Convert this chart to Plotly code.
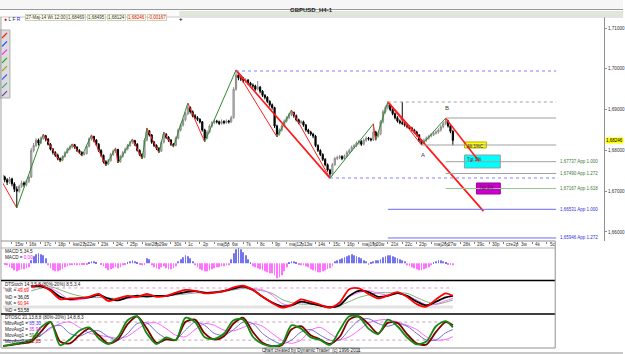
import plotly.graph_objects as go

W, H = 625, 354

# ---------------- data (prices in pips above 1.6000) ----------------
first_open = 740
closes = [735, 728, 722, 730, 718, 705, 700, 712, 720, 716, 724, 735,
          800, 812, 825, 818, 830, 836, 828,
          815, 803, 795, 788, 780, 776,
          785, 795, 803, 808, 814,
          808, 800, 795, 790, 792,
          810, 828, 834,
          825, 815, 800, 788, 772, 766,
          775, 790, 798, 802,
          772,
          785, 795, 803, 812, 820, 824,
          815, 800, 790, 783,
          825, 848,
          838, 820, 812, 805, 798,
          820, 840,
          832, 825, 815, 812,
          830, 850, 862, 875, 890, 905,
          895, 885, 880, 876, 870, 850, 830,
          845, 860, 868, 872, 870, 866, 871, 868, 872, 870,
          880, 950, 985,
          978, 975, 970, 972, 965, 960, 958, 950, 955, 945, 935, 930, 920, 912, 905, 860,
          840,
          850, 860, 872, 880, 888, 893,
          885, 875, 868, 870, 862, 850, 845, 840, 835, 812,
          800, 790, 778, 765, 752, 742,
          765, 780, 782, 785, 780, 786, 795, 800, 808, 812,
          818, 822, 815, 825, 830, 828, 826, 845, 835,
          840, 870, 895, 905, 912,
          900, 890, 880, 872, 868, 866, 862, 858, 855, 850, 845, 838, 825, 818,
          825, 830, 835, 838, 842, 845, 850, 858, 866, 872,
          860, 846.9, 824.6]
highs = [745, 738, 732, 735, 733, 722, 712, 716, 726, 724, 728, 740,
         806, 818, 830, 829, 834, 840, 838,
         830, 818, 806, 798, 792, 783,
         788, 798, 807, 812, 816,
         816, 810, 803, 798, 796,
         814, 832, 838,
         836, 828, 818, 803, 790, 776,
         779, 794, 802, 806,
         804,
         789, 799, 807, 816, 824, 828,
         826, 818, 803, 793,
         830, 855,
         850, 840, 823, 815, 808,
         824, 845,
         842, 835, 828, 818,
         834, 854, 866, 879, 894, 916,
         908, 898, 889, 884, 879, 872, 853,
         849, 864, 872, 876, 875, 873, 876, 874, 876, 875,
         885, 955, 997,
         990, 983, 980, 977, 975, 968, 964, 961, 970, 958, 948, 938, 933, 923, 915, 907,
         863,
         854, 864, 876, 884, 892, 899,
         895, 888, 878, 874, 873, 865, 853, 848, 843, 838,
         815, 803, 793, 781, 768, 755,
         769, 784, 787, 789, 788, 790, 799, 804, 812, 816,
         822, 826, 825, 829, 834, 833, 831, 865, 848,
         845, 874, 900, 910, 919,
         914, 903, 893, 884, 876, 919, 870, 866, 861, 858, 853, 848, 840, 828,
         829, 834, 838, 842, 846, 849, 854, 862, 870, 879,
         875, 863, 849.5]
lows = [730, 722, 715, 718, 712, 698, 659, 696, 708, 710, 712, 720,
        732, 795, 808, 812, 815, 826, 822,
        812, 800, 790, 784, 776, 772,
        773, 782, 792, 800, 805,
        804, 796, 791, 786, 787,
        790, 807, 824,
        820, 811, 796, 784, 768, 762,
        764, 772, 786, 794,
        769,
        770, 782, 792, 800, 808, 816,
        811, 797, 786, 779,
        781, 822,
        834, 816, 808, 801, 794,
        796, 817,
        828, 821, 811, 808,
        810, 827, 846, 858, 871, 886,
        890, 881, 876, 872, 866, 846, 821,
        827, 842, 856, 864, 866, 862, 863, 864, 865, 866,
        867, 878, 946,
        972, 970, 965, 966, 960, 955, 953, 946, 947, 940, 931, 925, 916, 907, 900, 855,
        833,
        836, 846, 856, 868, 876, 884,
        880, 871, 864, 864, 858, 846, 840, 836, 830, 808,
        796, 786, 774, 761, 748, 732,
        738, 762, 776, 778, 776, 777, 783, 792, 796, 804,
        808, 814, 811, 812, 821, 824, 822, 823, 825,
        831, 837, 866, 890, 900,
        896, 886, 876, 868, 864, 862, 858, 854, 851, 846, 841, 834, 821, 813,
        815, 821, 826, 832, 835, 839, 841, 846, 854, 862,
        856, 842, 812.4]

day_labels = ["15w", "16ś", "17c", "18p", "kwi21p", "22w", "23ś", "24c", "25p",
              "kwi28p", "29w", "30ś", "1c", "2p", "maj5p", "6w", "7ś", "8c", "9p",
              "maj12p", "13w", "14ś", "15c", "16p", "maj19p", "20w", "21ś", "22c",
              "23p", "maj26p", "27w", "28ś", "29c", "30p", "cze2p", "3w", "4ś", "5c"]
bars_per_day = 6
first_day_bar = 4

# zigzag swing points (bar, pips)
zz_bar = [0, 6, 17, 24, 29, 33, 37, 43, 47, 48, 54, 58, 60, 65, 67, 71, 77, 84,
          97, 114, 120, 136, 154, 155, 160, 174, 184, 198]
zz_pip = [722, 659, 840, 772, 816, 786, 838, 762, 806, 769, 828, 779, 855, 794,
          845, 808, 916, 821, 997, 833, 899, 732, 865, 825, 919, 813, 879, 772]
# long swing lines
trend_bar = [(97, 136), (160, 199.7)]
trend_pip = [(997, 732), (919, 651)]

# horizontal levels: start bar, pips, colour, dash, label
level_start = [97, 160, 184, 174, 184, 184, 136, 184, 160, 160]
level_pip = [994.6, 918.6, 879.4, 813.2, 772.3, 743.4, 732.4, 706.6, 655.6, 585.3]
level_color = ["#8080ff", "#a0a0a0", "#a0a0a0", "#a0a0a0", "#a0a0a0", "#a0a0a0",
               "#8080ff", "#90c890", "#6a6aff", "#6a6aff"]
level_dash = ["dot", "dot", "solid", "solid", "solid", "solid", "dot", "solid", "solid", "solid"]
level_label = ["", "", "", "", "1,67737 App 1.000", "1,67490 App 1.272", "",
               "1,67167 App 1.618", "1,66531 App 1.000", "1,65946 App 1.272"]
level_label_color = ["", "", "", "", "#3a7a3a", "#3a7a3a", "", "#3a7a3a", "#3030e0", "#3030e0"]
level_end_bar = 229.9

# target boxes: bar0, bar1, pip top, pip bottom, fill, border, text
box_bar0 = [191.8, 191.8, 196.8]
box_bar1 = [200.9, 206.7, 206.7]
box_top = [820.6, 788.7, 720.1]
box_bot = [805.9, 756.9, 693.1]
box_fill = ["#ffff00", "#00ffff", "#cc00cc"]
box_line = ["#b0b000", "#90a0a0", "#a000a0"]
box_text = ["Alt 1%C", "Tgt 1%", "Tgt 3%"]

last_price = 1.68246
price_ticks = [1.66, 1.67, 1.68, 1.69, 1.70, 1.71]

# MACD histogram (one value per bar, relative units)
macd = [-1, -1, -2, -4, -5, -7, -8, -7, -6, -6, -5, -4, 3, 7, 9, 10, 9, 8, 5,
        -2, -5, -7, -8, -8, -7, -6, -4, -3, -2, -2, -1, -2, -2, -1, -1, -1,
        1, 2, 2, 1, 0, -1, -3, -5, -7, -6, -5, -4, -5, -4, -2, -1, 1, 2, 3, 2, 1,
        -1, -2, -1, 5, 4, -2, -4, -5, -6, -4, -3, -5, -6, -6, -5, -3,
        2, 4, 6, 8, 7, 5, 2, -2, -4, -6, -7, -8, -8, -7, -6, -5, -4, -4, -3, -3, -2, -2,
        4, 10, 14, 16, 14, 11, 8, 4, 1, -3, -4, -5, -6, -7, -8, -9, -10, -10, -12,
        -15, -14, -12, -8, -4, 1, 2, 2, 1, -1,
        -2, -2, -3, -4, -6, -7, -8, -9, -9, -8, -7, -6, -5, -3,
        2, 3, 4, 5, 6, 7, 8, 9, 8, 7, 6, 5, 3, 2, -1, 1,
        2, 3, 3, 4, 6, 7, 8, 8, 7, 6, 5, 4, 3, 2,
        -2, -3, -4, -5, -6, -7, -7, -6, -5, -4, -2, 1, 2, 3, 3, 2, 1, -1, -1, -2]

# DTStoch (sampled every 4 bars from bar 12, plus last bar)
stoch_bar = list(range(12, 185, 4)) + [187]
stoch_k1 = [84, 88, 71, 45, 47, 47, 52, 61, 39, 47, 55, 52, 61, 52, 55, 65, 74, 71, 63, 65, 70, 82,
            87, 74, 52, 33, 18, 26, 44, 36, 27, 18, 34, 76, 79, 61, 47, 56, 67, 52, 29, 21, 44, 63, 55]
stoch_d1 = [84, 85, 74, 52, 44, 48, 50, 58, 47, 41, 50, 56, 53, 55, 55, 61, 67, 70, 65, 66, 71, 78,
            84, 74, 52, 34, 22, 25, 37, 31, 24, 19, 25, 55, 71, 67, 52, 55, 64, 55, 37, 25, 37, 50, 55]
stoch_k2 = [84, 84, 79, 63, 42, 43, 49, 55, 46, 42, 47, 51, 55, 55, 55, 60, 65, 68, 66, 67, 69, 76,
            81, 78, 74, 58, 31, 26, 34, 31, 24, 19, 31, 52, 66, 71, 63, 58, 63, 55, 42, 27, 29, 40, 47]
stoch_d2 = [71, 79, 84, 74, 63, 55, 50, 50, 48, 47, 49, 50, 52, 53, 55, 58, 61, 64, 65, 65, 68, 74,
            78, 75, 71, 63, 44, 34, 29, 29, 26, 21, 25, 37, 50, 58, 65, 65, 65, 63, 50, 37, 29, 35, 42]

# DTOSC (sampled every 4 bars from bar 0, plus last bar)
osc_bar = list(range(0, 185, 4)) + [187]
osc_fast = [0, 6, 11, 20, 62, 80, 3, 22, 51, 62, 26, 7, 31, 86, 99, 42, 7, 29, 20, 94, 80, 29, 24, 42,
            86, 88, 31, 7, 0, 7, 69, 58, 29, 20, 4, 53, 99, 97, 58, 40, 88, 66, 29, 6, 15, 66, 83, 62]
osc_slow = [0, 4, 9, 15, 47, 80, 15, 9, 36, 58, 36, 9, 22, 73, 99, 58, 11, 22, 20, 80, 88, 42, 22, 33,
            75, 94, 47, 11, 0, 3, 55, 66, 36, 22, 7, 31, 88, 99, 73, 42, 77, 77, 40, 9, 5, 47, 80, 69]
osc_ma1 = [20, 18, 20, 22, 36, 62, 69, 42, 33, 47, 51, 31, 20, 42, 75, 77, 47, 26, 22, 53, 80, 69, 42, 36,
           55, 80, 75, 42, 20, 7, 20, 47, 55, 36, 20, 20, 55, 86, 91, 75, 66, 75, 66, 42, 20, 20, 44, 55]
osc_ma2 = [0, 4, 9, 20, 36, 58, 75, 80, 62, 44, 36, 31, 26, 33, 55, 75, 77, 58, 36, 31, 55, 75, 69, 53,
           51, 62, 75, 66, 42, 20, 9, 20, 53, 62, 42, 22, 31, 53, 77, 86, 88, 80, 69, 55, 31, 20, 22, 31]

# ---------------- helpers ----------------
FONT = "Liberation Sans, Arial, sans-serif"
BAR_X0, BAR_PX = 12.0, 2.417          # pixel of bar 4, pixels per bar


def pbar(px):
    return first_day_bar + (px - BAR_X0) / BAR_PX


def price(p):
    return 1.6 + p / 10000.0


def fy(y):
    return 1 - y / H


def fx(x):
    return x / W


n = len(closes)
bars = list(range(n))
opens = [first_open] + closes[:-1]

fig = go.Figure()

fig.add_trace(go.Candlestick(
    x=bars, open=[price(v) for v in opens], high=[price(v) for v in highs],
    low=[price(v) for v in lows], close=[price(v) for v in closes],
    increasing=dict(line=dict(color="#8a8a8a", width=1), fillcolor="#d6d6d6"),
    decreasing=dict(line=dict(color="#000000", width=1), fillcolor="#000000"),
    whiskerwidth=0, xaxis="x", yaxis="y", showlegend=False, hoverinfo="skip"))

# zigzag
for i in range(len(zz_bar) - 1):
    up = zz_pip[i + 1] > zz_pip[i]
    fig.add_trace(go.Scatter(
        x=[zz_bar[i], zz_bar[i + 1]], y=[price(zz_pip[i]), price(zz_pip[i + 1])],
        mode="lines", line=dict(color="#2e8b2e" if up else "#ff2020",
                                width=1.6 if i == len(zz_bar) - 2 else 1),
        xaxis="x", yaxis="y", showlegend=False, hoverinfo="skip"))
for (b0, b1), (p0, p1) in zip(trend_bar, trend_pip):
    fig.add_trace(go.Scatter(x=[b0, b1], y=[price(p0), price(p1)], mode="lines",
                             line=dict(color="#ff1a1a", width=1.7),
                             xaxis="x", yaxis="y", showlegend=False, hoverinfo="skip"))

# level lines
for b, p, c, d in zip(level_start, level_pip, level_color, level_dash):
    fig.add_trace(go.Scatter(x=[b, level_end_bar], y=[price(p), price(p)], mode="lines",
                             line=dict(color=c, width=1, dash=d),
                             xaxis="x", yaxis="y", showlegend=False, hoverinfo="skip"))

shapes = []
annotations = []

for b0, b1, pt, pb, fc, lc, tx in zip(box_bar0, box_bar1, box_top, box_bot, box_fill, box_line, box_text):
    shapes.append(dict(type="rect", xref="x", yref="y", x0=b0, x1=b1, y0=price(pb), y1=price(pt),
                       fillcolor=fc, line=dict(color=lc, width=1), layer="below"))
    annotations.append(dict(xref="x", yref="y", x=b0 + 0.4, y=price(pt), xanchor="left", yanchor="top",
                            text=tx, showarrow=False, font=dict(size=4.5, color="#303030", family=FONT)))

for p, lab, c in zip(level_pip, level_label, level_label_color):
    if lab:
        annotations.append(dict(xref="x", yref="y", x=pbar(560), y=price(p), xanchor="left",
                                yanchor="middle", text=lab, showarrow=False,
                                font=dict(size=4.5, color=c, family=FONT)))

annotations.append(dict(xref="x", yref="y", x=174.5, y=price(789), text="A", showarrow=False,
                        font=dict(size=6, color="#404040", family=FONT)))
annotations.append(dict(xref="x", yref="y", x=184.4, y=price(904), text="B", showarrow=False,
                        font=dict(size=6, color="#404040", family=FONT)))
annotations.append(dict(xref="paper", yref="y", x=fx(606.5), y=last_price, xanchor="left",
                        yanchor="middle", text=f"{last_price:.5f}".replace(".", ","),
                        showarrow=False, bgcolor="#ffff00", borderpad=0,
                        font=dict(size=4.5, color="#000000", family=FONT)))

# day labels under the main chart
day_bars = [first_day_bar + bars_per_day * k for k in range(len(day_labels))]
for b, lab in zip(day_bars, day_labels):
    annotations.append(dict(xref="x", yref="paper", x=b + 0.3, y=fy(244.6), xanchor="left",
                            yanchor="middle", text=lab, showarrow=False,
                            font=dict(size=4.6, color="#303030", family=FONT)))

# MACD
fig.add_trace(go.Bar(x=bars, y=macd, width=0.32,
                     marker=dict(color=["#7474ee" if v > 0 else "#ff74ff" for v in macd], line_width=0),
                     xaxis="x2", yaxis="y2", showlegend=False, hoverinfo="skip"))

# DTStoch
ref_x = [0, n - 1]
fig.add_trace(go.Scatter(x=ref_x, y=[20, 20], mode="lines", line=dict(color="#e2e2e2", width=3),
                         xaxis="x3", yaxis="y3", showlegend=False, hoverinfo="skip"))
fig.add_trace(go.Scatter(x=ref_x, y=[80, 80], mode="lines", line=dict(color="#d99ad9", width=1, dash="dot"),
                         xaxis="x3", yaxis="y3", showlegend=False, hoverinfo="skip"))
for ys, c, w in [(stoch_d2, "#7fb07f", 1), (stoch_k2, "#ff66ff", 1),
                 (stoch_d1, "#000000", 1.8), (stoch_k1, "#ff0000", 1.8)]:
    fig.add_trace(go.Scatter(x=stoch_bar, y=ys, mode="lines", line=dict(color=c, width=w, shape="spline", smoothing=0.8),
                             xaxis="x3", yaxis="y3", showlegend=False, hoverinfo="skip"))

# DTOSC
for lv in (80, 20):
    fig.add_trace(go.Scatter(x=ref_x, y=[lv, lv], mode="lines", line=dict(color="#c8a0b8", width=1, dash="dot"),
                             xaxis="x4", yaxis="y4", showlegend=False, hoverinfo="skip"))
for ys, c, w in [(osc_ma2, "#ff66ff", 1), (osc_ma1, "#7070d0", 1),
                 (osc_slow, "#800000", 1.8), (osc_fast, "#108a10", 1.8)]:
    fig.add_trace(go.Scatter(x=osc_bar, y=ys, mode="lines", line=dict(color=c, width=w, shape="spline", smoothing=0.8),
                             xaxis="x4", yaxis="y4", showlegend=False, hoverinfo="skip"))

# ---------------- frame / chrome ----------------
def hline(y, x0, x1, color, width=1):
    shapes.append(dict(type="line", xref="paper", yref="paper", x0=fx(x0), x1=fx(x1), y0=fy(y), y1=fy(y),
                       line=dict(color=color, width=width)))


def vline(x, y0, y1, color, width=1):
    shapes.append(dict(type="line", xref="paper", yref="paper", x0=fx(x), x1=fx(x), y0=fy(y0), y1=fy(y1),
                       line=dict(color=color, width=width)))


def rect(x0, y0, x1, y1, fill, line=None):
    shapes.append(dict(type="rect", xref="paper", yref="paper", x0=fx(x0), x1=fx(x1), y0=fy(y1), y1=fy(y0),
                       fillcolor=fill, line=dict(color=line or fill, width=1 if line else 0), layer="below"))


rect(0, 0, 625, 9.5, "#f6f6f6")
hline(9.5, 0, 625, "#9a9a9a")
rect(0, 10, 625, 17, "#fbfbfb")
rect(180, 11, 625, 16, "#e0e6da")
hline(17, 0, 625, "#c8c8c8")
vline(1, 17, 348, "#a0a0a0")
hline(241, 1, 557, "#909090")
hline(248, 1, 557, "#b0b0b0")
hline(280.5, 1, 557, "#000000", 1.5)
hline(314, 1, 557, "#000000", 1.5)
vline(557, 241, 348, "#909090")
hline(348, 1, 557, "#909090")
hline(353, 0, 625, "#909090")
rect(266, 348, 360, 353, "#ffffff", "#a0a0a0")
# left drawing-tool palette
rect(0, 30, 10, 98, "#dcdcdc", "#b0b0b0")
icon_cols = ["#ff2020", "#2040ff", "#ff20ff", "#20a020", "#a0a020", "#4060ff", "#40a0a0", "#6040a0"]
for k, c in enumerate(icon_cols):
    y0 = 33 + k * 8.3
    shapes.append(dict(type="line", xref="paper", yref="paper", x0=fx(2), x1=fx(7), y0=fy(y0 + 5), y1=fy(y0),
                       line=dict(color=c, width=1.2)))

annotations.append(dict(xref="paper", yref="paper", x=fx(313), y=fy(4.7), text="<b>GBPUSD_H4-1</b>",
                        showarrow=False, font=dict(size=6, color="#202020", family=FONT)))
annotations.append(dict(xref="paper", yref="paper", x=fx(2), y=fy(13.5), xanchor="left",
                        text="<span style='color:#e00000'>●</span> L F <span style='color:#2020ff'>R</span>",
                        showarrow=False, font=dict(size=5, color="#303030", family=FONT)))
info = [("27-Maj-14 Wt 12:00", 25, "#303030"), ("1,68469", 67, "#303030"), ("1,68495", 87, "#303030"),
        ("1,68124", 107, "#303030"), ("1,68246", 127, "#e00000"), ("-0,00167", 147, "#e00000")]
for tx, x0, c in info:
    annotations.append(dict(xref="paper", yref="paper", x=fx(x0), y=fy(13.5), xanchor="left", text=tx,
                            showarrow=False, bgcolor="#fffff0", bordercolor="#d0d0b8", borderwidth=1,
                            borderpad=0, font=dict(size=4.5, color=c, family=FONT)))
annotations.append(dict(xref="paper", yref="paper", x=fx(178), y=fy(13.5), text="<b>+</b>",
                        showarrow=False, font=dict(size=6, color="#000000", family=FONT)))

panel_text = [
    (251, "MACD 5,34,5"),
    (257, "MACD = <span style='color:#ff00ff'>0,00</span>"),
    (284, "DTStoch 14,3,5,8 (80%-20%) 8,5,3,4"),
    (290.5, "%K = <span style='color:#ff0000'>49,69</span>"),
    (297, "%D = <span style='color:#000000'>36,05</span>"),
    (303.5, "%K = <span style='color:#ff0000'>60,94</span>"),
    (310, "%D = <span style='color:#000000'>53,58</span>"),
    (317.5, "DTOSC 21,13,8,8 (80%-20%) 14,8,8,3"),
    (323.5, "MovAvg1 = <span style='color:#4040ff'>85,30</span>"),
    (329.5, "MovAvg2 = <span style='color:#ff00ff'>35,94</span>"),
    (335.5, "MovAvg1 = <span style='color:#008000'>59,20</span>"),
    (341.5, "MovAvg2 = <span style='color:#a00000'>72,85</span>"),
]
for y, tx in panel_text:
    annotations.append(dict(xref="paper", yref="paper", x=fx(3), y=fy(y), xanchor="left", yanchor="middle",
                            text=tx, showarrow=False, font=dict(size=4.6, color="#202020", family=FONT)))
annotations.append(dict(xref="paper", yref="paper", x=fx(313), y=fy(350.6), yanchor="middle",
                        text="Chart created by Dynamic Trader  (c) 1996-2011", showarrow=False,
                        font=dict(size=4.6, color="#202020", family=FONT)))

xr_main = [pbar(3), pbar(606)]
xr_sub = [pbar(3), pbar(557)]
hidden = dict(visible=False, fixedrange=True)

fig.update_layout(
    width=W, height=H, margin=dict(l=0, r=0, t=0, b=0),
    paper_bgcolor="#ffffff", plot_bgcolor="#ffffff", separators=",.",
    showlegend=False, font=dict(family=FONT, size=5),
    xaxis=dict(domain=[fx(3), fx(606)], range=xr_main, anchor="y", showgrid=False, zeroline=False,
               showline=False, tickvals=day_bars, ticks="outside", ticklen=2, tickcolor="#808080",
               showticklabels=False, rangeslider=dict(visible=False)),
    yaxis=dict(domain=[fy(241), fy(17)], range=[price(577.9), price(1127)], side="right", anchor="x",
               showgrid=False, zeroline=False, showline=True, linecolor="#909090", linewidth=1,
               tickvals=price_ticks, tickformat=".5f", ticks="outside", ticklen=2, tickcolor="#909090",
               tickfont=dict(size=4.6, color="#303030", family=FONT)),
    xaxis2=dict(domain=[fx(3), fx(557)], range=xr_sub, anchor="y2", **hidden),
    yaxis2=dict(domain=[fy(280), fy(248)], range=[-16.7, 15.3], anchor="x2", **hidden),
    xaxis3=dict(domain=[fx(3), fx(557)], range=xr_sub, anchor="y3", **hidden),
    yaxis3=dict(domain=[fy(313), fy(281)], range=[1, 102], anchor="x3", **hidden),
    xaxis4=dict(domain=[fx(3), fx(557)], range=xr_sub, anchor="y4", **hidden),
    yaxis4=dict(domain=[fy(347), fy(314.5)], range=[-3, 105], anchor="x4", **hidden),
    shapes=shapes, annotations=annotations,
)

fig.write_html("out.html")
